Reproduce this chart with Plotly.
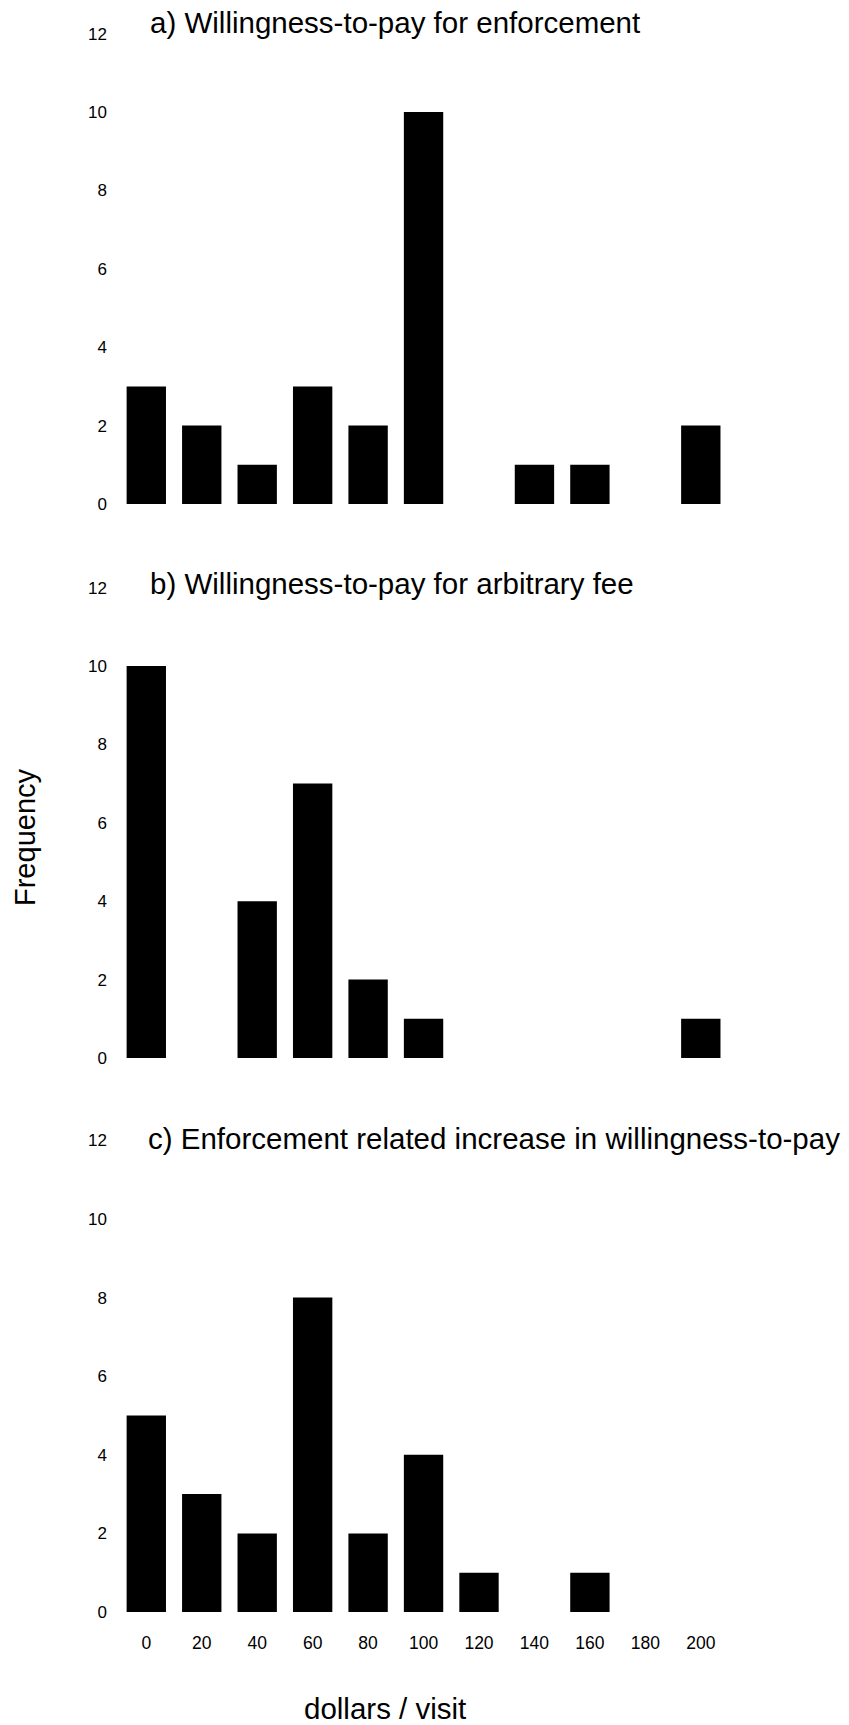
import plotly.graph_objects as go

dollars = [0, 20, 40, 60, 80, 100, 120, 140, 160, 180, 200]
freq_enforcement = [3, 2, 1, 3, 2, 10, 0, 1, 1, 0, 2]
freq_arbitrary = [10, 0, 4, 7, 2, 1, 0, 0, 0, 0, 1]
freq_increase = [5, 3, 2, 8, 2, 4, 1, 0, 1, 0, 0]
titles = ["a) Willingness-to-pay for enforcement",
          "b) Willingness-to-pay for arbitrary fee",
          "c) Enforcement related increase in willingness-to-pay"]
y_ticks = [0, 2, 4, 6, 8, 10, 12]

W, H = 849, 1725
FONT = "Liberation Sans, Arial, sans-serif"

# pixel geometry of panels (top = value 12, bottom = value 0)
panels_px = [(33.6, 504), (587.6, 1058), (1140.4, 1612)]
title_px = [(148, 23), (148, 583), (146, 1138)]
x_left_px, x_right_px = 108, 760
px_per_unit = 2.7725
x0_px = 146.3
xr = [(x_left_px - x0_px) / px_per_unit, (x_right_px - x0_px) / px_per_unit]

fig = go.Figure()
series = [freq_enforcement, freq_arbitrary, freq_increase]
for i, vals in enumerate(series):
    xa = "x" if i == 0 else f"x{i+1}"
    ya = "y" if i == 0 else f"y{i+1}"
    fig.add_trace(go.Bar(x=dollars, y=vals, width=14.2,
                         marker=dict(color="black", line=dict(width=0)),
                         xaxis=xa, yaxis=ya, showlegend=False))

layout = dict(
    width=W, height=H,
    margin=dict(l=0, r=0, t=0, b=0, pad=0),
    plot_bgcolor="white", paper_bgcolor="white",
    font=dict(family=FONT, color="black"),
    annotations=[],
)
for i in range(3):
    top, bot = panels_px[i]
    xk = "xaxis" if i == 0 else f"xaxis{i+1}"
    yk = "yaxis" if i == 0 else f"yaxis{i+1}"
    ya = "y" if i == 0 else f"y{i+1}"
    xa = "x" if i == 0 else f"x{i+1}"
    layout[xk] = dict(domain=[x_left_px / W, x_right_px / W], range=xr, anchor=ya,
                      automargin=False,
                      showgrid=False, zeroline=False, showline=False,
                      tickvals=dollars, ticktext=[str(d) for d in dollars],
                      showticklabels=(i == 2), ticks="outside", ticklen=15,
                      tickcolor="rgba(0,0,0,0)", tickfont=dict(size=17.5, family=FONT))
    layout[yk] = dict(domain=[1 - bot / H, 1 - top / H], range=[0, 12], anchor=xa,
                      automargin=False,
                      showgrid=False, zeroline=False, showline=False,
                      tickvals=y_ticks, ticks="", tickfont=dict(size=17, family=FONT))
    tx, ty = title_px[i]
    layout["annotations"].append(dict(text=titles[i], xref="paper", yref="paper",
                                      x=tx / W, y=1 - ty / H, xanchor="left", yanchor="middle",
                                      showarrow=False, font=dict(size=29.5, family=FONT)))
layout["annotations"].append(dict(text="Frequency", xref="paper", yref="paper",
                                  x=25 / W, y=1 - 837 / H, xanchor="center", yanchor="middle",
                                  textangle=-90, showarrow=False, font=dict(size=29, family=FONT)))
layout["annotations"].append(dict(text="dollars / visit", xref="paper", yref="paper",
                                  x=385 / W, y=1 - 1708 / H, xanchor="center", yanchor="middle",
                                  showarrow=False, font=dict(size=29.5, family=FONT)))
fig.update_layout(**layout)
fig.write_html("out.html")
